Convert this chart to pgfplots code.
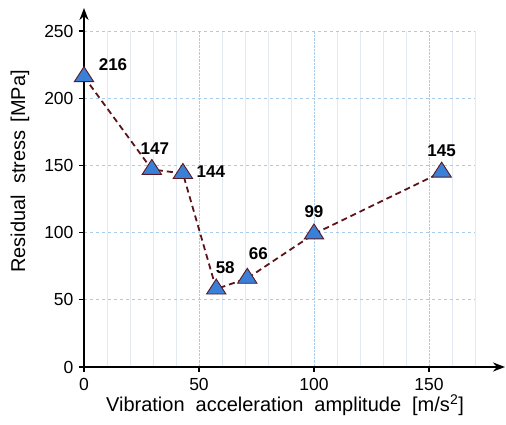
\documentclass[border=0pt]{standalone}
\usepackage{pgfplots}
\pgfplotsset{compat=1.18}
\usepackage{pgfplotstable}
\usepackage{fontspec}
\setmainfont{Liberation Sans}
\usetikzlibrary{arrows.meta}
\definecolor{mk}{HTML}{3A7FD8}
\definecolor{mkedge}{HTML}{5A1A22}
\definecolor{ln}{HTML}{5C1418}
\definecolor{gridb}{HTML}{A9CCEB}
\definecolor{gridm}{HTML}{E2E9F1}
\pgfplotstableread{
x y dx dy
0 216 29 12
29.5 147 3 21
43 144 28 2
57.5 58 9 21
71 66 11 25
100 99 0 22
155.5 145 0 21
}\data
\begin{document}
\begin{tikzpicture}
\begin{axis}[
  at={(0,0)}, anchor=origin,
  scale only axis, width=391pt, height=336pt,
  xmin=0, xmax=170, ymin=0, ymax=250,
  axis lines=left,
  clip=false,
  x axis line style={line width=2pt, -{Stealth[length=12pt,width=9pt]}, shorten >=-30pt},
  y axis line style={line width=2pt, -{Stealth[length=12pt,width=9pt]}, shorten >=-23pt},
  xtick={0,50,100,150},
  ytick={0,50,100,150,200,250},
  minor xtick={10,20,30,40,60,70,80,90,110,120,130,140,160,170},
  tick align=outside,
  major tick length=5pt,
  minor tick length=0pt,
  tick style={black, line width=1.2pt},
  grid=both,
  major x grid style={gridb, densely dotted, line width=0.8pt},
  minor x grid style={gridm, line width=0.8pt},
  major y grid style={gridb, dashed, line width=0.8pt},
  /pgf/number format/assume math mode=true,
  ticklabel style={font=\fontsize{17.5}{20}\selectfont},
  xticklabel style={yshift=-3pt},
  yticklabel style={xshift=-2pt},
  xlabel={Vibration\hspace{0.55em}acceleration\hspace{0.55em}amplitude\hspace{0.55em}[m/s\textsuperscript{2}]},
  ylabel={Residual\hspace{0.55em}stress\hspace{0.4em}[MPa]},
  xlabel style={font=\fontsize{20}{24}\selectfont, at={(axis description cs:0.514,-0.113)}, anchor=center},
  ylabel style={font=\fontsize{20}{24}\selectfont, at={(axis description cs:-0.164,0.582)}, anchor=center},
]
\addplot[color=ln, dash pattern=on 6pt off 4pt, line width=1.8pt,
  mark=triangle*, mark size=10pt,
  mark options={solid, fill=mk, draw=mkedge, line width=0.9pt, xscale=1.12},
  visualization depends on={\thisrow{dx}\as\dx},
  visualization depends on={\thisrow{dy}\as\dy},
  point meta=explicit,
  nodes near coords,
  every node near coord/.append style={font=\fontsize{17}{20}\selectfont\bfseries, text=black, anchor=center, xshift=\dx pt, yshift=\dy pt, /pgf/number format/assume math mode=true},
] table[x=x, y=y, meta=y] {\data};
\end{axis}
\pgfresetboundingbox
\path[use as bounding box] (-84pt,-58pt) rectangle (422pt,367pt);
\end{tikzpicture}
\end{document}
